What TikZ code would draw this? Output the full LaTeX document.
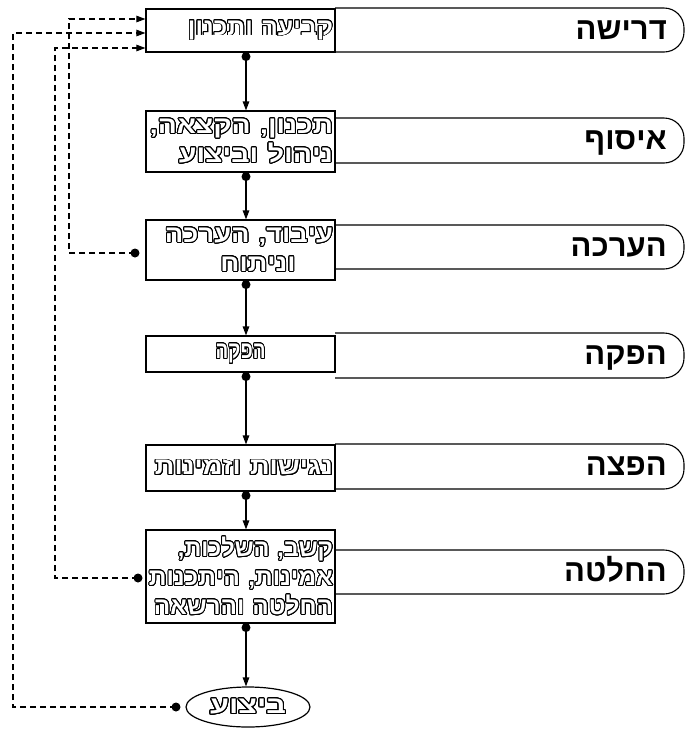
\documentclass[tikz,border=0pt]{standalone}
\usepackage{fontspec}
\setmainfont{Liberation Sans}
\usepackage{contour}
\contourlength{0.9pt}
\contournumber{24}
\TeXXeTstate=1
\usetikzlibrary{shapes.geometric,arrows.meta,calc}
\newcommand\olt[1]{\textcolor{white}{\contour{black}{#1}}}
\newcommand\olw[2]{\resizebox{#1}{\height}{\olt{#2}}}
\begin{document}
\begin{tikzpicture}[x=1pt,y=-1pt,
  box/.style={draw, line width=1.2pt, inner sep=2pt, text width=185pt, align=right,
    font=\bfseries\fontsize{24}{29}\selectfont},
  ovalbox/.style={ellipse, draw, line width=1.2pt, inner sep=0pt, minimum width=124pt,
    minimum height=40pt, font=\bfseries\fontsize{24}{29}\selectfont},
  lab/.style={font=\bfseries\fontsize{31}{34}\selectfont, anchor=base east, inner sep=0pt},
  bar/.style={line width=1.1pt, rounded corners=20pt},
  flow/.style={line width=1.2pt, -{Triangle[length=9pt,width=6.5pt]}},
  fb/.style={line width=1.1pt, dash pattern=on 6pt off 4pt, -{Triangle[length=9pt,width=6.5pt]}},
  dotn/.style={circle, fill=black, inner sep=0pt, minimum size=9pt}]
\useasboundingbox (0,0) rectangle (686,729);

% label bars
\draw[bar] (335,8) -- (684,8) -- (684,52) -- (335,52);
\draw[bar] (335,118) -- (684,118) -- (684,163) -- (335,163);
\draw[bar] (335,225) -- (684,225) -- (684,269) -- (335,269);
\draw[bar] (335,333) -- (684,333) -- (684,378) -- (335,378);
\draw[bar] (335,444) -- (684,444) -- (684,489) -- (335,489);
\draw[bar] (335,550) -- (684,550) -- (684,594) -- (335,594);

\node[lab] (l1) at (667,39) {\beginR דרישה\endR};
\node[lab] (l2) at (667,149.5) {\beginR איסוף\endR};
\node[lab] (l3) at (667,256) {\beginR הערכה\endR};
\node[lab] (l4) at (667,364.5) {\beginR הפקה\endR};
\node[lab] (l5) at (667,475.5) {\beginR הפצה\endR};
\node[lab] (l6) at (667,581) {\beginR החלטה\endR};

% boxes
\node[box, fill=white, minimum height=43pt] (b1) at (240.5,30.5) {\olw{145pt}{\beginR קביעה ותכנון\endR}};
\node[box, fill=white, minimum height=61pt] (b2) at (240.5,141.5) {\olw{183pt}{\beginR תכנון, הקצאה,\endR}\\\olw{154pt}{\beginR ניהול וביצוע\endR}};
\node[box, fill=white, minimum height=60pt] (b3) at (240.5,250) {\olw{168pt}{\beginR עיבוד, הערכה\endR}\\\makebox[150pt][c]{\olw{75pt}{\beginR וניתוח\endR}}};
\node[box, fill=white, minimum height=36pt, align=center] (b4) at (240.5,354) {\olw{50pt}{\beginR הפקה\endR}\hspace*{18pt}};
\node[box, fill=white, minimum height=46pt] (b5) at (240.5,468) {\olw{178pt}{\beginR נגישות וזמינות\endR}};
\node[box, fill=white, minimum height=93pt] (b6) at (240.5,576.5) {\olw{155pt}{\beginR קשב, השלכות,\endR}\hspace*{12pt}\\\olw{184pt}{\beginR אמינות, היתכנות\endR}\\\olw{179pt}{\beginR החלטה והרשאה\endR}};
\node[ovalbox] (e) at (248,707) {\olw{76pt}{\beginR ביצוע\endR}};

% main flow
\coordinate (ax) at (246,0);
\foreach \a/\b in {b1/b2,b2/b3,b3/b4,b4/b5,b5/b6,b6/e}{
  \node[dotn] (dot\a) at ($(\a.south -| ax)+(0,4)$) {};
  \draw[flow] (dot\a.center) -- (\b.north -| ax);
}

% feedback loops
\coordinate (ya) at (0,19);
\coordinate (yb) at (0,48);
\coordinate (yc) at (0,33);
\node[dotn] (f3) at (135,253) {};
\node[dotn] (f6) at (138,578) {};
\node[dotn] (fe) at (176,707) {};
\draw[fb] (f3.center) -- (69,253) -- (69,19) -- (b1.west |- ya);
\draw[fb] (f6.center) -- (55,578) -- (55,48) -- (b1.west |- yb);
\draw[fb] (fe.center) -- (13,707) -- (13,33) -- (b1.west |- yc);
\end{tikzpicture}
\end{document}
